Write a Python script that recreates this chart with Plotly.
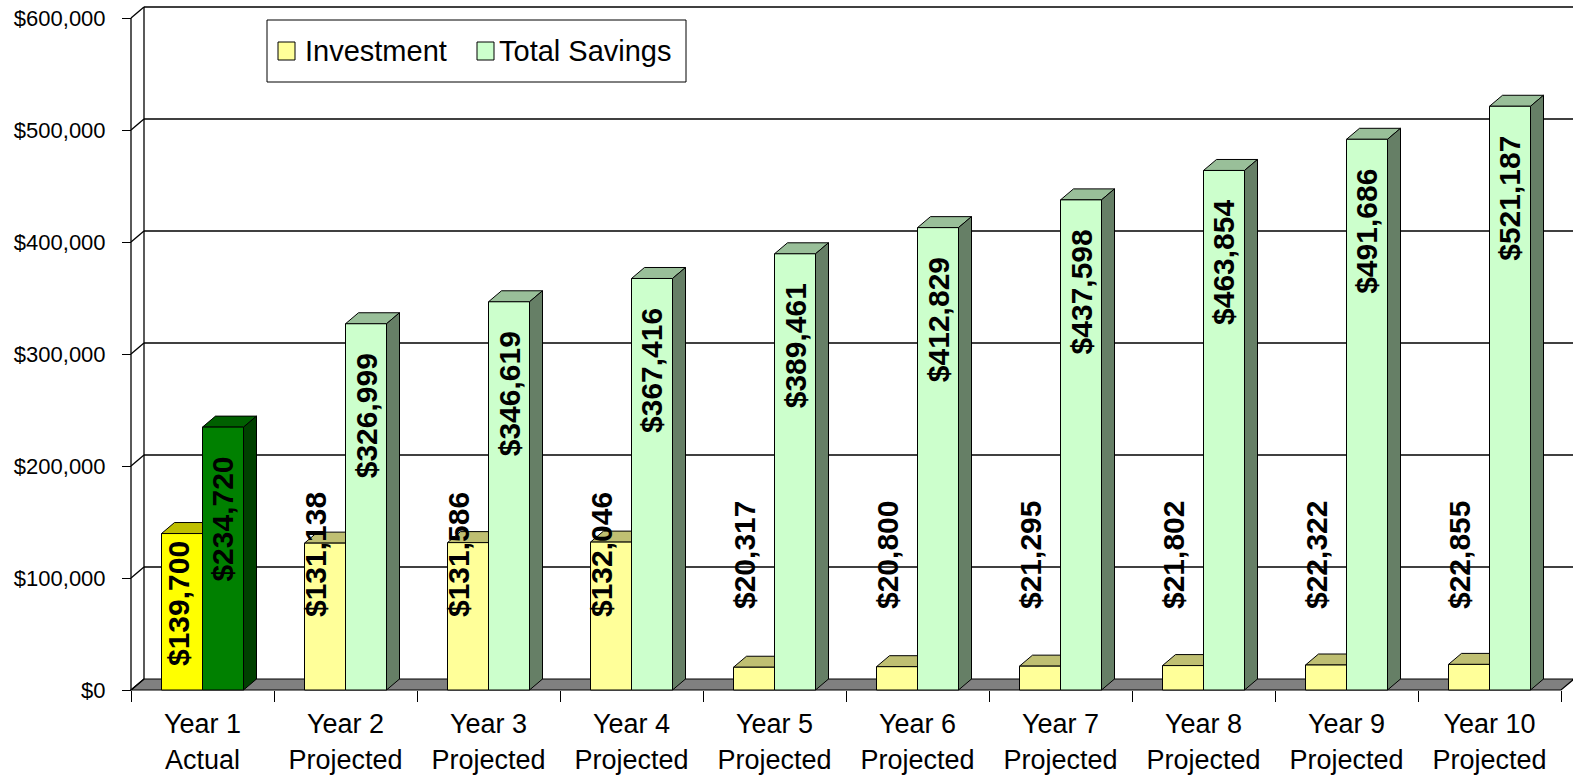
import plotly.graph_objects as go

# ---------------- data ----------------
years = ["Year 1", "Year 2", "Year 3", "Year 4", "Year 5",
         "Year 6", "Year 7", "Year 8", "Year 9", "Year 10"]
status = ["Actual", "Projected", "Projected", "Projected", "Projected",
          "Projected", "Projected", "Projected", "Projected", "Projected"]
investment = [139700, 131138, 131586, 132046, 20317, 20800, 21295, 21802, 22322, 22855]
savings = [234720, 326999, 346619, 367416, 389461, 412829, 437598, 463854, 491686, 521187]
y_tick_values = [0, 100000, 200000, 300000, 400000, 500000, 600000]
y_tick_labels = ["$0", "$100,000", "$200,000", "$300,000", "$400,000", "$500,000", "$600,000"]
series_names = ["Investment", "Total Savings"]

# ---------------- layout geometry ----------------
W, H = 1573, 777
ML, MR, MT, MB = 120, 0, 0, 80
PW, PH = W - ML - MR, H - MT - MB
FRONT_X0 = 131        # pixel of the front-left corner of the category axis
CAT_PX = 143          # pixels per category
ZERO_PY = 690         # pixel of value 0 on the front plane
PX_PER_UNIT = 112 / 100000.0
DX, DY = 13, 11       # 3-D depth offset in pixels
BW = 41 / 143.0       # bar width in category units

n = len(years)
idx = list(range(n))
y_per_px = 1 / PX_PER_UNIT
x_lo = -0.5 - (FRONT_X0 - ML) / CAT_PX
x_hi = x_lo + PW / CAT_PX
y_lo = -(MT + PH - ZERO_PY) * y_per_px
y_hi = y_lo + PH * y_per_px
dxu = DX / CAT_PX
dyu = DY * y_per_px
y_top = max(y_tick_values)

FONT = "Liberation Sans, Arial, sans-serif"


def shade(hex_color, f):
    h = hex_color.lstrip("#")
    r, g, b = (int(h[i:i + 2], 16) for i in (0, 2, 4))
    return "#%02X%02X%02X" % (int(r * f), int(g * f), int(b * f))


inv_colors = ["#FFFF00" if s == "Actual" else "#FFFF99" for s in status]
sav_colors = ["#008000" if s == "Actual" else "#CCFFCC" for s in status]

fig = go.Figure()
fig.add_trace(go.Bar(x=idx, y=investment, offset=-BW, width=BW, name=series_names[0],
                     marker=dict(color=inv_colors, line=dict(color="black", width=1)),
                     hoverinfo="skip"))
fig.add_trace(go.Bar(x=idx, y=savings, offset=0, width=BW, name=series_names[1],
                     marker=dict(color=sav_colors, line=dict(color="black", width=1)),
                     hoverinfo="skip"))
# helper trace so the boundary-tick axis is drawn
fig.add_trace(go.Scatter(x=[None], y=[None], xaxis="x2", yaxis="y", showlegend=False,
                         hoverinfo="skip"))

shapes = []
# floor
shapes.append(dict(type="path", xref="x", yref="y", layer="below",
                   path=f"M {-0.5},0 L {-0.5 + dxu},{dyu} L {n - 0.5 + dxu},{dyu} L {n - 0.5},0 Z",
                   fillcolor="#808080", line=dict(color="black", width=1.2)))
# back-wall gridlines and left-wall diagonals
for v in y_tick_values:
    if v > 0:
        shapes.append(dict(type="line", xref="x", yref="y", layer="below",
                           x0=-0.5 + dxu, y0=v + dyu, x1=n - 0.5 + dxu + 1, y1=v + dyu,
                           line=dict(color="black", width=1.3)))
    shapes.append(dict(type="line", xref="x", yref="y", layer="below",
                       x0=-0.5, y0=v, x1=-0.5 + dxu, y1=v + dyu,
                       line=dict(color="black", width=1.3)))
# left-wall back edge and front axis line
shapes.append(dict(type="line", xref="x", yref="y", layer="below",
                   x0=-0.5 + dxu, y0=dyu, x1=-0.5 + dxu, y1=y_top + dyu,
                   line=dict(color="black", width=1.3)))
shapes.append(dict(type="line", xref="x", yref="y", layer="below",
                   x0=-0.5, y0=0, x1=-0.5, y1=y_top,
                   line=dict(color="black", width=1.3)))

# 3-D faces of bars
for i in idx:
    # investment top
    xl, xr, v = i - BW, i, investment[i]
    shapes.append(dict(type="path", xref="x", yref="y", layer="below",
                       path=f"M {xl},{v} L {xl + dxu},{v + dyu} L {xr + dxu},{v + dyu} L {xr},{v} Z",
                       fillcolor=shade(inv_colors[i], 0.75), line=dict(color="black", width=1)))
    # savings top and side
    xl, xr, v = i, i + BW, savings[i]
    shapes.append(dict(type="path", xref="x", yref="y", layer="below",
                       path=f"M {xl},{v} L {xl + dxu},{v + dyu} L {xr + dxu},{v + dyu} L {xr},{v} Z",
                       fillcolor=shade(sav_colors[i], 0.75), line=dict(color="black", width=1)))
    shapes.append(dict(type="path", xref="x", yref="y", layer="below",
                       path=f"M {xr},0 L {xr},{v} L {xr + dxu},{v + dyu} L {xr + dxu},{dyu} Z",
                       fillcolor=shade(sav_colors[i], 0.5), line=dict(color="black", width=1)))


def px_x(px):
    return (px - ML) / PW


def px_y(py):
    return (MT + PH - py) / PH


# legend (manual)
shapes.append(dict(type="rect", xref="paper", yref="paper", layer="above",
                   x0=px_x(267), x1=px_x(686), y0=px_y(20), y1=px_y(82),
                   fillcolor="white", line=dict(color="black", width=1)))
legend_sw = [("#FFFF99", 278, 303), ("#CCFFCC", 477, 497)]
annotations = []
for (col, sx, tx), name in zip(legend_sw, series_names):
    shapes.append(dict(type="rect", xref="paper", yref="paper", layer="above",
                       x0=px_x(sx), x1=px_x(sx + 17), y0=px_y(42), y1=px_y(60),
                       fillcolor=col, line=dict(color="black", width=1)))
    annotations.append(dict(xref="paper", yref="paper", x=px_x(tx), y=px_y(51),
                            xanchor="left", yanchor="middle", showarrow=False, text=name,
                            font=dict(family=FONT, size=29, color="black")))

# data labels
lab_font = dict(family=FONT, size=30, color="black", weight="bold")
for i in idx:
    annotations.append(dict(xref="x", yref="y", x=i + BW / 2, y=savings[i],
                            yanchor="top", xanchor="center", yshift=-28, textangle=-90,
                            showarrow=False, text=f"${savings[i]:,}", font=lab_font))
    if status[i] == "Actual":
        annotations.append(dict(xref="x", yref="y", x=i - BW / 2, y=investment[i],
                                yanchor="top", xanchor="center", yshift=-6, xshift=-4,
                                textangle=-90, showarrow=False,
                                text=f"${investment[i]:,}", font=lab_font))
    else:
        annotations.append(dict(xref="x", yref="y", x=i - BW / 2, y=0,
                                yanchor="middle", xanchor="center", yshift=135, xshift=-10,
                                textangle=-90, showarrow=False,
                                text=f"${investment[i]:,}", font=lab_font))

x_pos = (MT + PH - ZERO_PY) / PH
fig.update_layout(
    width=W, height=H,
    margin=dict(l=ML, r=MR, t=MT, b=MB, pad=0, autoexpand=False),
    paper_bgcolor="white", plot_bgcolor="white",
    showlegend=False, barmode="overlay",
    shapes=shapes, annotations=annotations,
    xaxis=dict(range=[x_lo, x_hi], domain=[0, 1], anchor="free", position=x_pos,
               automargin=False,
               tickvals=idx, ticktext=[f"{y}<br>{s}" for y, s in zip(years, status)],
               ticks="outside", ticklen=10, tickcolor="rgba(0,0,0,0)",
               tickfont=dict(family=FONT, size=27, color="black"),
               showgrid=False, zeroline=False, showline=False, fixedrange=True),
    xaxis2=dict(range=[x_lo, x_hi], overlaying="x", anchor="free", position=x_pos,
                automargin=False,
                tickvals=[i - 0.5 for i in range(n + 1)], ticks="outside", ticklen=11,
                tickcolor="black", tickwidth=1.2, showticklabels=False,
                showgrid=False, zeroline=False, showline=False),
    yaxis=dict(range=[y_lo, y_hi], domain=[0, 1], anchor="free", position=px_x(FRONT_X0),
               automargin=False,
               tickvals=y_tick_values, ticktext=y_tick_labels,
               ticks="outside", ticklen=9, tickcolor="black", tickwidth=1.2,
               ticklabelstandoff=12,
               tickfont=dict(family=FONT, size=22, color="black"),
               showgrid=False, zeroline=False, showline=False),
)

fig.write_html("out.html", config={"displayModeBar": False},
               post_script="document.body.style.margin='0';document.body.style.padding='0';")
